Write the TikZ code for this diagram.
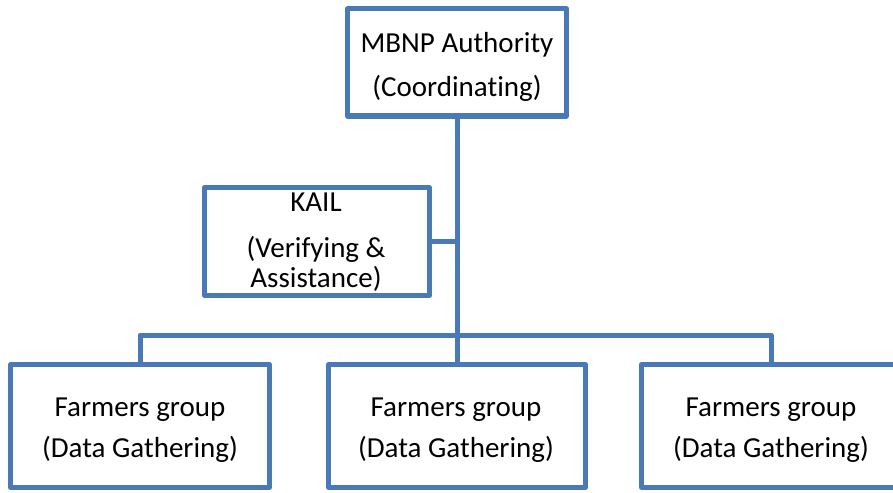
\documentclass[tikz,border=0pt]{standalone}
\usepackage{fontspec}
\setmainfont{Carlito}[Ligatures=NoCommon]
\definecolor{boxblue}{HTML}{4A7AB6}
\begin{document}
\begin{tikzpicture}[x=1pt,y=-1pt,
  box/.style={draw=boxblue, line width=5pt, fill=white, rectangle, inner sep=0pt, line join=round},
  lbl/.style={anchor=base, inner sep=0pt, font=\fontsize{29}{36}\selectfont},
  conn/.style={draw=boxblue, line width=5pt, line join=round}]
\useasboundingbox (0,0) rectangle (893,492);
\clip (0,0) rectangle (893,492);
\fill[white] (0,0) rectangle (893,492);
\coordinate (j) at (457,335);
\coordinate (k) at (457,241.5);
% boxes
\node[box, minimum width=219pt, minimum height=107pt] (top) at (457,62.5) {};
\node[box, minimum width=225pt, minimum height=108pt] (kail) at (317,241.5) {};
\node[box, minimum width=259pt, minimum height=123pt] (fl) at (140,426) {};
\node[box, minimum width=257pt, minimum height=123pt] (fm) at (457,426) {};
\node[box, minimum width=259pt, minimum height=123pt] (fr) at (771,426) {};
% connectors
\draw[conn] (top.south) -- (j);
\draw[conn] (kail.east) -- (k);
\draw[conn] (fl.north) |- (j) -| (fr.north);
\draw[conn] (j) -- (fm.north);
% texts
\node[lbl] (t1) at (457,52.5) {MBNP Authority};
\node[lbl] (t2) at (457,97) {(Coordinating)};
\node[lbl] (k1) at (316,211) {KAIL};
\node[lbl] (k2) at (316,257) {(Verifying \&};
\node[lbl] (k3) at (316,287) {Assistance)};
\node[lbl] (a1) at (140,416) {Farmers group};
\node[lbl] (a2) at (140,457) {(Data Gathering)};
\node[lbl] (b1) at (456,416) {Farmers group};
\node[lbl] (b2) at (456,457) {(Data Gathering)};
\node[lbl] (c1) at (771,416) {Farmers group};
\node[lbl] (c2) at (771,457) {(Data Gathering)};
\end{tikzpicture}
\end{document}
